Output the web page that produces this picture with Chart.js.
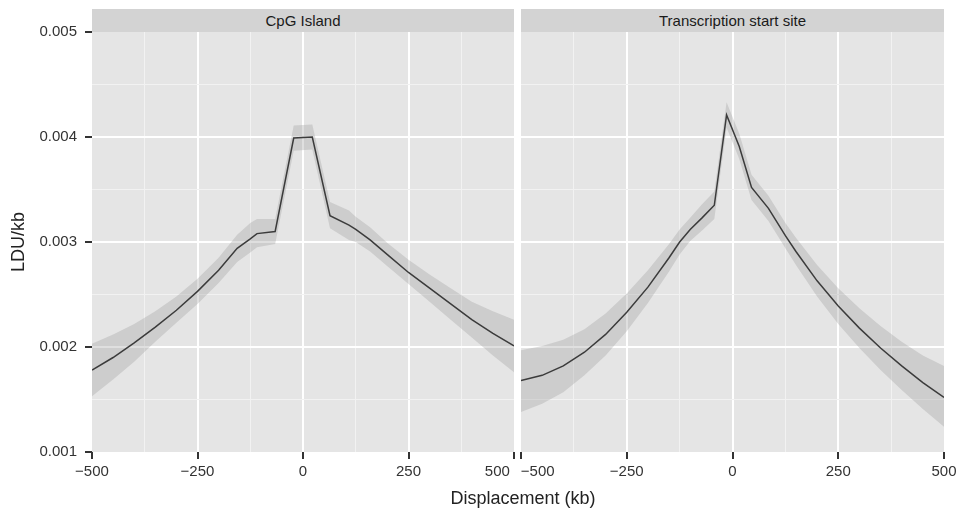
<!DOCTYPE html>
<html>
<head>
<meta charset="utf-8">
<script src="https://cdn.jsdelivr.net/npm/chart.js@4.4.1/dist/chart.umd.min.js"></script>
<style>
  body { margin: 0; background: #fff; }
  #wrap { position: relative; width: 958px; height: 509px; font-family: 'Liberation Sans', Arial, sans-serif; }
  canvas { position: absolute; top: 0; }
  .strip { position: absolute; top: 9px; height: 23px; line-height: 23px; background: #d3d3d3;
           color: #1a1a1a; font-size: 15px; text-align: center; }
  #xtitle { position: absolute; top: 487px; left: 323px; width: 400px; text-align: center;
            font-size: 18px; line-height: 22px; color: #222; }
</style>
</head>
<body>
<div id="wrap">
  <canvas id="cpg" width="516" height="509" style="left:0"></canvas>
  <canvas id="tss" width="442" height="509" style="left:516px"></canvas>
  <div class="strip" style="left:92px;width:422px">CpG Island</div>
  <div class="strip" style="left:521px;width:423px">Transcription start site</div>
  <div id="xtitle">Displacement (kb)</div>
</div>
<script>
// axis ticks
const xGrid = [-500, -375, -250, -125, 0, 125, 250, 375, 500];
const xMajor = [-500, -250, 0, 250, 500];
const xTickLabels = ['−500', '−250', '0', '250', '500'];
const yGrid = [0.001, 0.0015, 0.002, 0.0025, 0.003, 0.0035, 0.004, 0.0045, 0.005];
const yMajor = [0.001, 0.002, 0.003, 0.004, 0.005];
const yTickLabels = ['0.001', '0.002', '0.003', '0.004', '0.005'];

// CpG Island panel
const cpgX  = [-500, -450, -400, -350, -300, -250, -200, -156, -125, -109, -66, -22, 22, 64, 109, 125, 159, 200, 250, 300, 350, 400, 450, 500];
const cpgY  = [0.00178, 0.00190, 0.00204, 0.00219, 0.00235, 0.00253, 0.00273, 0.00294, 0.00303, 0.00308, 0.00310, 0.00399, 0.00400, 0.00325, 0.00316, 0.00312, 0.00302, 0.00288, 0.00271, 0.00256, 0.00241, 0.00226, 0.00213, 0.00201];
const cpgLo = [0.00153, 0.00169, 0.00186, 0.00205, 0.00223, 0.00241, 0.00261, 0.00281, 0.00290, 0.00295, 0.00298, 0.00387, 0.00388, 0.00313, 0.00302, 0.00300, 0.00291, 0.00277, 0.00260, 0.00243, 0.00226, 0.00209, 0.00192, 0.00176];
const cpgHi = [0.00203, 0.00212, 0.00222, 0.00234, 0.00248, 0.00265, 0.00285, 0.00307, 0.00318, 0.00322, 0.00322, 0.00411, 0.00412, 0.00338, 0.00330, 0.00324, 0.00314, 0.00299, 0.00283, 0.00269, 0.00256, 0.00243, 0.00234, 0.00226];

// Transcription start site panel
const tssX  = [-500, -450, -400, -350, -300, -250, -200, -150, -125, -100, -72, -43, -14, 16, 45, 85, 125, 150, 200, 250, 300, 350, 400, 450, 500];
const tssY  = [0.00168, 0.00173, 0.00182, 0.00195, 0.00212, 0.00233, 0.00257, 0.00285, 0.00300, 0.00312, 0.00323, 0.00335, 0.00421, 0.00391, 0.00352, 0.00332, 0.00306, 0.00291, 0.00263, 0.00239, 0.00218, 0.00199, 0.00182, 0.00166, 0.00152];
const tssLo = [0.00138, 0.00146, 0.00157, 0.00173, 0.00192, 0.00215, 0.00242, 0.00272, 0.00288, 0.00301, 0.00311, 0.00322, 0.00409, 0.00379, 0.00340, 0.00320, 0.00294, 0.00278, 0.00248, 0.00222, 0.00199, 0.00178, 0.00159, 0.00141, 0.00124];
const tssHi = [0.00197, 0.00201, 0.00207, 0.00217, 0.00232, 0.00251, 0.00273, 0.00298, 0.00312, 0.00323, 0.00336, 0.00348, 0.00433, 0.00403, 0.00364, 0.00344, 0.00318, 0.00304, 0.00278, 0.00256, 0.00237, 0.00220, 0.00205, 0.00192, 0.00182];

Chart.defaults.font.family = "'Liberation Sans', Arial, sans-serif";
Chart.defaults.animation = false;

const isIn = (v, list) => list.some(m => Math.abs(m - v) < 1e-9);
const pts = (xs, ys) => xs.map((x, i) => ({ x: x, y: ys[i] }));
const pad = ' '.repeat(8);

const panelBg = {
  id: 'panelBg',
  beforeDraw(chart) {
    const { ctx, chartArea: a } = chart;
    ctx.save();
    ctx.fillStyle = '#e5e5e5';
    ctx.fillRect(a.left, a.top, a.right - a.left, a.bottom - a.top);
    ctx.restore();
  }
};

function gridOpts(major, lo, hi) {
  return {
    color: c => {
      const v = c.tick ? c.tick.value : null;
      if (v === null || Math.abs(v - lo) < 1e-9 || Math.abs(v - hi) < 1e-9) return 'transparent';
      return isIn(v, major) ? '#ffffff' : '#f2f2f2';
    },
    lineWidth: c => (c.tick && isIn(c.tick.value, major)) ? 2 : 1,
    tickColor: c => (c.tick && isIn(c.tick.value, major)) ? '#333333' : 'transparent',
    tickWidth: 2,
    tickLength: 7
  };
}

function makePanel(id, xs, ys, lo, hi, first) {
  const yAxis = {
    type: 'linear', min: 0.001, max: 0.005,
    afterBuildTicks: s => { s.ticks = yGrid.map(v => ({ value: v })); },
    border: { display: false },
    grid: gridOpts(yMajor, 0.001, 0.005)
  };
  if (first) {
    yAxis.afterFit = s => { s.width = 92; };
    yAxis.ticks = {
      padding: 8, color: '#333', font: { size: 15 },
      callback: v => { const i = yMajor.findIndex(m => Math.abs(m - v) < 1e-9); return i < 0 ? '' : yTickLabels[i]; }
    };
    yAxis.title = { display: true, text: 'LDU/kb', color: '#222', font: { size: 18 }, padding: { top: 8, bottom: 0 } };
  } else {
    yAxis.afterFit = s => { s.width = 0; };
    yAxis.ticks = { display: false };
    yAxis.grid.drawTicks = false;
  }

  return new Chart(document.getElementById(id), {
    type: 'line',
    data: {
      datasets: [
        { data: pts(xs, hi), fill: '+1', backgroundColor: 'rgba(150,150,150,0.3)', borderColor: 'transparent', borderWidth: 0, pointRadius: 0 },
        { data: pts(xs, lo), fill: false, borderColor: 'transparent', borderWidth: 0, pointRadius: 0 },
        { data: pts(xs, ys), fill: false, borderColor: '#151515', borderWidth: 1.5, pointRadius: 0, tension: 0 }
      ]
    },
    options: {
      responsive: false,
      devicePixelRatio: 1,
      events: [],
      layout: { padding: first ? { top: 32, left: 0, right: 2, bottom: 0 } : { top: 32, left: 5, right: 14, bottom: 0 } },
      plugins: { legend: { display: false }, tooltip: { enabled: false } },
      scales: {
        x: {
          type: 'linear', min: -500, max: 500,
          afterBuildTicks: s => { s.ticks = xGrid.map(v => ({ value: v })); },
          afterFit: s => { s.height = 57; s.paddingLeft = 0; s.paddingRight = 0; },
          border: { display: false },
          grid: gridOpts(xMajor, -500, 500),
          ticks: {
            autoSkip: false, maxRotation: 0, padding: 4, color: '#333', font: { size: 15 },
            callback: v => {
              const i = xMajor.indexOf(v);
              if (i < 0) return '';
              if (first && v === 500) return xTickLabels[i] + pad;
              if (!first && v === -500) return pad + xTickLabels[i];
              return xTickLabels[i];
            }
          }
        },
        y: yAxis
      }
    },
    plugins: [panelBg]
  });
}

makePanel('cpg', cpgX, cpgY, cpgLo, cpgHi, true);
makePanel('tss', tssX, tssY, tssLo, tssHi, false);
</script>
</body>
</html>
